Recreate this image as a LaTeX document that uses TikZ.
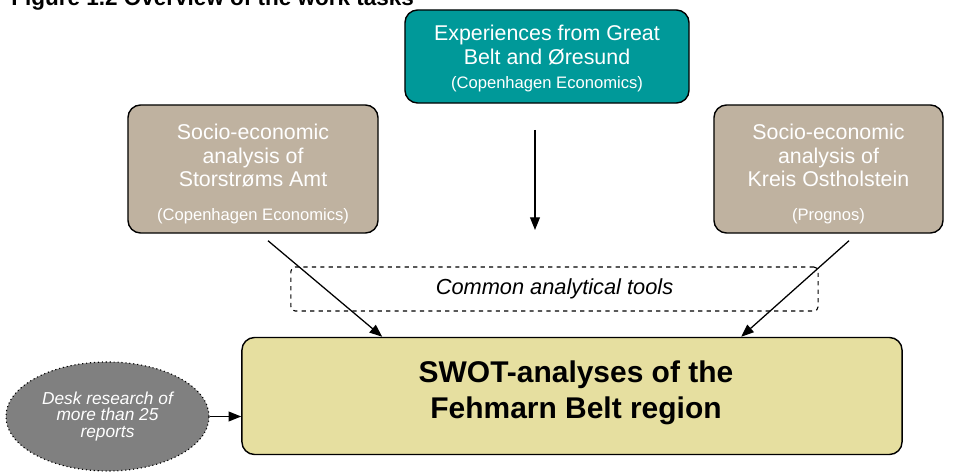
\documentclass[tikz,border=0pt]{standalone}
\usepackage{fontspec}
\setmainfont{Liberation Sans}
\usetikzlibrary{positioning,calc,shapes.geometric,arrows.meta}
\definecolor{tealbox}{RGB}{0,153,153}
\definecolor{tanbox}{RGB}{191,178,160}
\definecolor{swotbox}{RGB}{230,223,160}
\definecolor{deskgray}{RGB}{128,128,128}
\newcommand{\boxfont}{\fontsize{15.2}{16.8}\selectfont}
\newcommand{\srcfont}{\fontsize{11.8}{16.8}\selectfont}
\newcommand{\lift}[1]{\rule{0pt}{#1}}

\begin{document}
\begin{tikzpicture}[x=0.025cm,y=-0.025cm,
	workbox/.style={draw=black, line width=1pt, rounded corners=9pt, align=center, text=white, inner sep=0pt, font=\boxfont},
	toolbox/.style={draw=black, line width=0.8pt, dashed, rounded corners=3pt, minimum width=13.175cm, minimum height=1.1cm, font=\itshape\fontsize{15.5}{18}\selectfont},
	deskbox/.style={ellipse, draw=black, dotted, line width=0.8pt, fill=deskgray, text=white, align=center, inner sep=0pt, minimum width=5.075cm, minimum height=2.725cm, font=\itshape\fontsize{12.3}{11.9}\selectfont},
	arrow/.style={line width=0.9pt, -{Triangle[length=9pt,width=7pt]}}]
				\useasboundingbox (0,0) rectangle (956,473);

				%Title
				\node[anchor=base west, inner sep=0pt, font=\bfseries\fontsize{16}{19}\selectfont] (title) at (11,6) {Figure 1.2 Overview of the work tasks};

				%Nodes
				\node[workbox, fill=tealbox, minimum width=7.1cm, minimum height=2.325cm] (great) at (547,56.5)
					{\lift{14pt}Experiences from Great\\ Belt and Øresund\\ \srcfont (Copenhagen Economics)};
				\node[workbox, fill=tanbox, minimum width=6.25cm, minimum height=3.2cm] (storstrom) at (253,169)
					{\lift{18pt}Socio-economic\\ analysis of\\ Storstrøms Amt\\[7pt] \srcfont (Copenhagen Economics)};
				\node[workbox, fill=tanbox, minimum width=5.725cm, minimum height=3.2cm] (ostholstein) at (828.5,169)
					{\lift{18pt}Socio-economic\\ analysis of\\ Kreis Ostholstein\\[7pt] \srcfont (Prognos)};
				\node[toolbox] (tools) at (554.5,289) {Common analytical tools};
				\node[workbox, fill=swotbox, minimum width=16.5cm, minimum height=2.925cm] (swot) at (572,396) {};
				\node[font=\bfseries\fontsize{21.3}{25.6}\selectfont, align=center, inner sep=0pt] (swottext) at ($(swot.center)+(4,-3)$)
					{SWOT-analyses of the\\ Fehmarn Belt region};
				\node[deskbox] (desk) at (107.5,416.5) {Desk research of\\ more than 25\\ reports};

				%Lines
				\coordinate (downtop) at (535,130);
				\coordinate (downend) at (535,230);
				\draw[arrow] (downtop) -- (downend);
				\draw[arrow] ($(storstrom.south)+(15,7)$) -- ($(swot.north west)+(141,0)$);
				\draw[arrow] ($(ostholstein.south)+(20.5,7)$) -- ($(swot.north west)+(500,0)$);
				\draw[arrow] (desk.east) -- (desk.east -| swot.west);

			\end{tikzpicture}
\end{document}
